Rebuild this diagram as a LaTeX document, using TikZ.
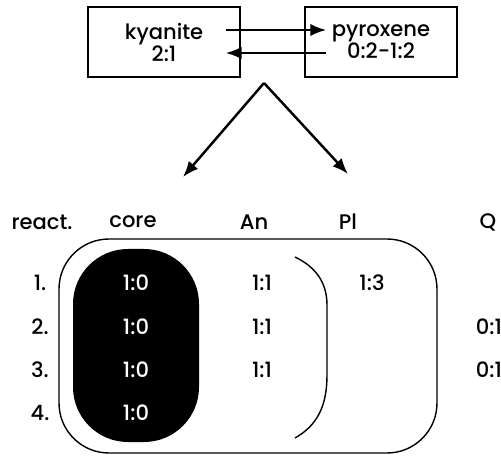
\documentclass[tikz,border=0pt]{standalone}
\usepackage{fontspec}
\setmainfont{Poppins}[UprightFont=* Medium]
\usepackage{tikz}
\usetikzlibrary{arrows.meta}
\definecolor{inkdark}{RGB}{0, 0, 0}
\tikzstyle{arrow}=[line width=1.4pt, -{Latex[length=9pt,width=7pt]}, color=inkdark]
\tikzstyle{phasebox}=[draw=inkdark, line width=0.8pt, align=center, minimum width=3.04cm, minimum height=1.4cm, font=\fontsize{12}{12.5}\selectfont]
\tikzstyle{entry}=[font=\fontsize{12}{13}\selectfont]

\begin{document}
\begin{tikzpicture}[x=0.02cm, y=-0.02cm]
    \useasboundingbox (0,0) rectangle (501,456);
    \clip (0,0) rectangle (501,456);

    % Reaction boxes
    \node[phasebox] (kyanite) at (164, 42) {kyanite\\2:1};
    \node[phasebox] (pyroxene) at (381, 42) {pyroxene\\0:2-1:2};
    \draw[arrow] ([xshift=-0.3cm, yshift=0.24cm]kyanite.east) -- ([xshift=0.44cm, yshift=0.24cm]pyroxene.west);
    \draw[arrow] ([xshift=0.44cm, yshift=-0.22cm]pyroxene.west) -- ([xshift=-0.3cm, yshift=-0.22cm]kyanite.east);

    % Split arrows
    \coordinate (apex) at (264, 83);
    \coordinate (coretip) at (183, 177);
    \coordinate (pltip) at (348, 174);
    \draw[arrow] (apex) -- (coretip);
    \draw[arrow] (apex) -- (pltip);

    % Column heads
    \node[entry] (hreact) at (42, 222) {react.};
    \node[entry] (hcore) at (133, 222) {core};
    \node[entry] (han) at (254, 222) {An};
    \node[entry] (hpl) at (348, 222) {Pl};
    \node[entry] (hq) at (488, 222) {Q};

    % Zones
    \draw[line width=0.8pt, rounded corners=1cm] (59, 239) rectangle (437, 453);
    \fill[inkdark, rounded corners=1.1cm] (73, 249) rectangle (199, 442);
    \draw[line width=0.8pt] (295, 257) .. controls (318, 268) and (327, 285) .. (327, 305)
        -- (327, 375) .. controls (327, 405) and (318, 425) .. (295, 438);

    % Reactions
    \foreach \n/\y in {1/283, 2/327, 3/370, 4/413} {
        \node[entry] (r\n) at (40, \y) {\n.};
        \node[entry, text=white] (core\n) at (136, \y) {1:0};
    }
    \foreach \n/\y in {1/283, 2/327, 3/370} {
        \node[entry] (an\n) at (262, \y) {1:1};
    }
    \node[entry] (pl1) at (372, 283) {1:3};
    \node[entry] (q2) at (489, 327) {0:1};
    \node[entry] (q3) at (489, 370) {0:1};

\end{tikzpicture}
\end{document}
